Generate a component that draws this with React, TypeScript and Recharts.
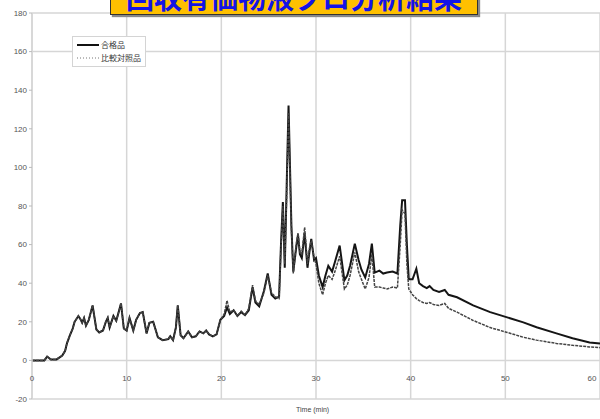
import { CartesianGrid, Line, LineChart, XAxis, YAxis } from 'recharts';

// retention time (min)
const times = [
  0, 1.3, 1.6, 2.0, 2.6, 3.2, 3.5, 3.7, 4.0, 4.3, 4.5, 4.9, 5.1, 5.3, 5.5, 5.7, 6.0, 6.4, 6.8, 7.1,
  7.5, 7.8, 8.0, 8.2, 8.6, 8.9, 9.1, 9.4, 9.7, 10.0, 10.3, 10.7, 11.0, 11.4, 11.7, 12.1, 12.4, 12.8,
  13.3, 13.8, 14.4, 14.6, 14.9, 15.2, 15.4, 15.7, 16.0, 16.5, 16.9, 17.3, 17.7, 18.1, 18.4, 18.7,
  19.1, 19.5, 19.9, 20.3, 20.6, 20.9, 21.3, 21.7, 22.1, 22.5, 22.9, 23.3, 23.6, 24.0, 24.5, 24.9,
  25.3, 25.7, 26.1, 26.3, 26.5, 26.7, 26.9, 27.1, 27.4, 27.6, 27.9, 28.1, 28.3, 28.5, 28.8, 29.1,
  29.3, 29.5, 29.8, 30.0, 30.3, 30.7, 31.0, 31.3, 31.7, 32.0, 32.5, 33.0, 33.3, 33.6, 34.1, 34.5,
  34.8, 35.2, 35.6, 35.9, 36.2, 36.7, 37.1, 37.5, 38.1, 38.6, 38.9, 39.1, 39.4, 39.6, 39.8, 40.2,
  40.6, 40.9, 41.3, 41.7, 42.0, 42.4, 43.0, 43.6, 44.0, 44.9, 46.6, 48.4, 50.2, 51.9, 53.3, 55.4,
  57.1, 58.9, 60,
];

// 合格品
const sampleValues = [
  0, 0, 2, 0.5, 0.5, 2.5, 5, 9, 13, 16.5, 20, 23, 21.5, 19.5, 22, 18, 21, 28.5, 16, 14.5,
  15.5, 20, 22, 17, 23, 20.5, 24, 29.5, 16.5, 15.5, 22, 15.5, 21, 24.5, 25, 14, 19.5, 20,
  12, 10.5, 11, 12.5, 10.5, 17, 28.5, 13, 11.5, 15, 12, 12.5, 15, 14, 15.5, 13.5,
  12.5, 13.5, 21, 23, 27.5, 24, 26, 23, 25, 23.5, 26, 38, 30, 28, 36, 45,
  34, 32, 33, 60, 82, 48, 90, 132, 70, 46, 58, 65, 55, 53, 66, 48,
  56, 63, 52, 53, 44, 38, 44, 49, 46, 51, 59.5, 41.5, 44, 49, 60.5, 52,
  47, 43, 50, 60.5, 45.5, 46.5, 45, 45.5, 46, 45, 70, 83, 83, 60, 42, 42,
  47.5, 40, 38.5, 37.5, 38.5, 36.5, 35.5, 36.5, 34, 32.7, 28.5, 25, 22.3, 19.7, 17.2, 14,
  11.5, 9.3, 8.7,
];

// 比較対照品
const controlValues = [
  0, 0, 2, 0.5, 0.5, 2.5, 5, 9, 13, 16.5, 20, 23, 21.5, 19.5, 22, 18, 21, 28.5, 16, 14.5,
  15.5, 20, 22, 17, 23, 20.5, 24, 29.5, 16.5, 15.5, 22, 15.5, 21, 24.5, 25, 14, 19.5, 20,
  12, 10.5, 11, 12.5, 10.5, 17, 28.5, 13, 11.5, 15, 12, 12.5, 15, 14, 15.5, 13.5,
  12.5, 13.5, 21, 24, 31, 25, 26, 23, 25.5, 23.5, 27, 39, 31, 29, 35, 44,
  35, 33, 32, 58, 80, 50, 85, 128, 68, 45, 60, 66, 56, 55, 69, 50,
  58, 62, 53, 50, 40, 34, 40, 44, 42, 46, 54, 37, 39, 44, 56, 46,
  42, 37, 43, 55, 38, 38, 37.5, 37, 38, 37.5, 60, 78, 76, 50, 37, 34,
  32, 31, 30, 29.5, 30, 29, 28.5, 29.5, 27, 25, 20.7, 17, 14.5, 12, 10.5, 8.8,
  7.8, 7, 6.6,
];

const xTicks = [0, 10, 20, 30, 40, 50, 60];
const yTicks = [-20, 0, 20, 40, 60, 80, 100, 120, 140, 160, 180];
const gridRows = [-20, 0, 160, 180];

const seriesNames = { sample: '合格品', control: '比較対照品' };

const data = times.map((t, i) => ({ t, sample: sampleValues[i], control: controlValues[i] }));

const font = '"Liberation Sans", "Noto Sans CJK JP", sans-serif';

const XTick = (props: any) => {
  const { x, y, payload } = props;
  return (
    <text x={x} y={y - 26} textAnchor="middle" fontSize={8} fill="#555" fontFamily={font}>
      {payload.value}
    </text>
  );
};

const LegendBox = () => (
  <div
    style={{
      position: 'absolute',
      left: 72,
      top: 36,
      background: '#fff',
      border: '1px solid #d4d4d4',
      padding: '3px 4px',
      fontSize: 8,
      lineHeight: '10px',
      color: '#333',
      fontFamily: '"Noto Sans CJK JP", sans-serif',
    }}
  >
    <div style={{ display: 'flex', alignItems: 'center' }}>
      <svg width={22} height={6}>
        <line x1={0} y1={3} x2={22} y2={3} stroke="#111" strokeWidth={2} />
      </svg>
      <span style={{ marginLeft: 2 }}>{seriesNames.sample}</span>
    </div>
    <div style={{ display: 'flex', alignItems: 'center', marginTop: 3 }}>
      <svg width={22} height={6}>
        <line x1={0} y1={3} x2={22} y2={3} stroke="#777" strokeWidth={1} strokeDasharray="1 2" />
      </svg>
      <span style={{ marginLeft: 2 }}>{seriesNames.control}</span>
    </div>
  </div>
);

export default function App() {
  return (
    <div style={{ position: 'absolute', left: 0, top: 0, width: 600, height: 419, background: '#fff', overflow: 'hidden' }}>
      <LineChart width={600} height={419} data={data} margin={{ top: 13, right: 0, bottom: 0, left: 0 }}>
        <CartesianGrid
          stroke="#d6d6d6"
          strokeWidth={1.5}
          horizontalValues={gridRows}
          verticalValues={xTicks}
        />
        <XAxis
          type="number"
          dataKey="t"
          domain={[0, 60]}
          ticks={xTicks}
          height={20}
          tickLine={false}
          axisLine={false}
          tick={<XTick />}
        />
        <YAxis
          type="number"
          domain={[-20, 180]}
          ticks={yTicks}
          width={32}
          tickSize={3}
          tickLine={{ stroke: '#bbb' }}
          axisLine={{ stroke: '#d6d6d6', strokeWidth: 1.5 }}
          tick={{ fontSize: 8, fill: '#555', fontFamily: font }}
          interval={0}
        />
        <Line
          dataKey="sample"
          type="linear"
          stroke="#151515"
          strokeWidth={2}
          dot={false}
          isAnimationActive={false}
        />
        <Line
          dataKey="control"
          type="linear"
          stroke="#444"
          strokeWidth={1.5}
          strokeDasharray="3 1"
          dot={false}
          isAnimationActive={false}
        />
      </LineChart>
      <LegendBox />
      <div
        style={{
          position: 'absolute',
          left: 296,
          top: 406,
          fontSize: 7,
          color: '#444',
          fontFamily: font,
          whiteSpace: 'nowrap',
        }}
      >
        Time (min)
      </div>
      <div
        style={{
          position: 'absolute',
          left: 110,
          top: -19,
          width: 368,
          height: 34,
          boxSizing: 'border-box',
          background: '#ffc000',
          border: '1.5px solid #333',
          boxShadow: '2px 2px 1px #888',
          color: '#1414e6',
          fontFamily: '"Noto Sans CJK JP", sans-serif',
          fontWeight: 700,
          fontSize: 28,
          lineHeight: '30px',
          textAlign: 'center',
          whiteSpace: 'nowrap',
        }}
      >
        回収有価物液クロ分析結果
      </div>
    </div>
  );
}
